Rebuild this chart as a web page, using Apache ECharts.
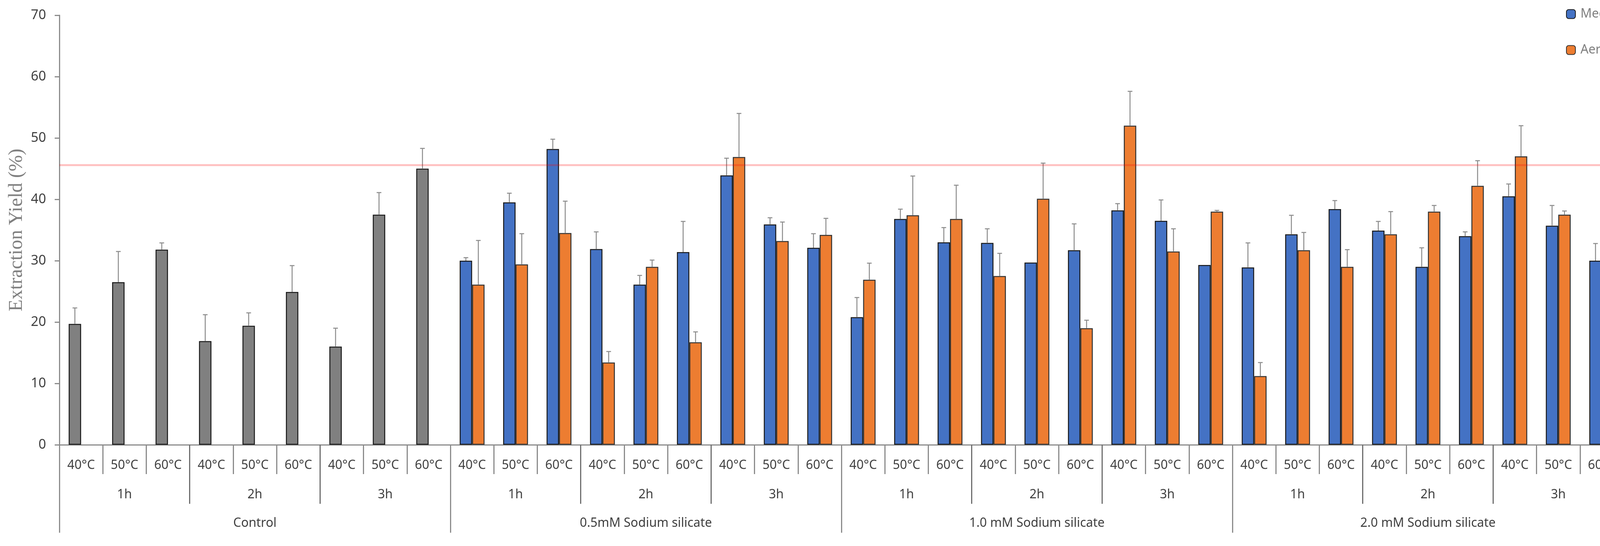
<!DOCTYPE html>
<html>
<head>
<meta charset="utf-8">
<script src="https://cdn.jsdelivr.net/npm/echarts/dist/echarts.min.js"></script>
<style>
html,body{margin:0;padding:0;background:#fff;}
#chart{width:4172px;height:1397px;}
</style>
</head>
<body>
<div id="chart"></div>
<script>
// ---- data ----
var temps = ['40°C','50°C','60°C','40°C','50°C','60°C','40°C','50°C','60°C',
             '40°C','50°C','60°C','40°C','50°C','60°C','40°C','50°C','60°C',
             '40°C','50°C','60°C','40°C','50°C','60°C','40°C','50°C','60°C',
             '40°C','50°C','60°C','40°C','50°C','60°C','40°C','50°C','60°C'];
var hours = ['1h','2h','3h','1h','2h','3h','1h','2h','3h','1h','2h','3h'];
var groups = ['Control','0.5mM Sodium silicate','1.0 mM Sodium silicate','2.0 mM Sodium silicate'];
var controlCount = 9;

// Media series (first 9 = Control)
var mediaValues = [19.7,26.5,31.8, 16.9,19.4,24.9, 16.0,37.5,45.0,
                   30.0,39.5,48.2, 31.9,26.1,31.4, 43.9,35.9,32.1,
                   20.8,36.8,33.0, 32.9,29.7,31.7, 38.2,36.5,29.3,
                   28.9,34.3,38.4, 34.9,29.0,34.0, 40.5,35.7,30.0];
var mediaErr =    [2.6,5.0,1.1, 4.3,2.1,4.3, 3.0,3.6,3.3,
                   0.5,1.5,1.6, 2.8,1.5,5.0, 2.8,1.1,2.3,
                   3.2,1.6,2.4, 2.3,0,4.3, 1.1,3.4,0,
                   4.0,3.1,1.4, 1.5,3.1,0.7, 2.0,3.3,2.8];
var aerialValues = [null,null,null, null,null,null, null,null,null,
                   26.1,29.4,34.5, 13.4,29.0,16.7, 46.9,33.2,34.2,
                   26.9,37.4,36.8, 27.5,40.1,19.0, 52.0,31.5,38.0,
                   11.2,31.7,29.0, 34.3,38.0,42.2, 47.0,37.5,30.7];
var aerialErr =   [null,null,null, null,null,null, null,null,null,
                   7.2,5.0,5.2, 1.8,1.1,1.7, 7.1,3.1,2.7,
                   2.7,6.4,5.5, 3.7,5.8,1.3, 5.6,3.7,0.2,
                   2.2,2.9,2.8, 3.7,1.0,4.1, 5.0,0.6,1.9];
var referenceLine = 45.6;

// ---- build ----
var mediaData = mediaValues.map(function(v,i){
  return i < controlCount ? {value:v, itemStyle:{color:'#808080'}} : v;
});
function errData(vals, errs){
  var out = [];
  for (var i=0;i<vals.length;i++){ if (vals[i]!=null) out.push([i, vals[i], errs[i]]); }
  return out;
}
function errRender(sign){
  return function(params, api){
    var idx = api.value(0), v = api.value(1), e = api.value(2);
    if (!e) return;
    var band = api.size([1,0])[0];
    var p0 = api.coord([idx, v]);
    var p1 = api.coord([idx, v+e]);
    var x = p0[0] + sign*band*0.143;
    var st = {stroke:'#8c8c8c', lineWidth:2.5};
    return {type:'group', children:[
      {type:'line', shape:{x1:x,y1:p0[1],x2:x,y2:p1[1]}, style:st},
      {type:'line', shape:{x1:x-6,y1:p1[1],x2:x+6,y2:p1[1]}, style:st}
    ]};
  };
}
var axisGray = '#8c8c8c';
var labelFont = {fontFamily:'Noto Sans', fontSize:32, color:'#404040'};

var chart = echarts.init(document.getElementById('chart'));
chart.setOption({
  animation:false,
  backgroundColor:'#fff',
  grid:{left:152, right:16, top:39, bottom:259},
  legend:{
    data:['Media','Aerial'], orient:'vertical', right:28, top:15,
    itemWidth:23, itemHeight:23, itemGap:60,
    textStyle:{fontFamily:'Noto Sans', fontSize:32, color:'#7f7f7f', padding:[0,0,0,8]}
  },
  xAxis:[
    {type:'category', data:temps, position:'bottom',
     axisLine:{show:true, lineStyle:{color:axisGray, width:3}},
     axisTick:{show:true, interval:0, length:75, lineStyle:{color:axisGray, width:3}},
     axisLabel:Object.assign({interval:0, margin:37}, labelFont),
     splitLine:{show:false}},
    {type:'category', data:hours, position:'bottom',
     axisLine:{show:false},
     axisTick:{show:true, interval:0, length:151, lineStyle:{color:'#6e6e6e', width:3}},
     axisLabel:Object.assign({interval:0, margin:112}, labelFont),
     splitLine:{show:false}},
    {type:'category', data:groups, position:'bottom',
     axisLine:{show:false},
     axisTick:{show:true, interval:0, length:225, lineStyle:{color:axisGray, width:3}},
     axisLabel:Object.assign({interval:0, margin:185}, labelFont),
     splitLine:{show:false}}
  ],
  yAxis:{
    type:'value', min:0, max:70, interval:10,
    name:'Extraction Yield (%)', nameLocation:'middle', nameRotate:90, nameGap:80,
    nameTextStyle:{fontFamily:'Liberation Serif', fontSize:50, color:'#7f7f7f'},
    axisLine:{show:true, lineStyle:{color:axisGray, width:3}},
    axisTick:{show:true, length:12, lineStyle:{color:axisGray, width:3}},
    axisLabel:Object.assign({margin:34}, labelFont, {fontSize:34}),
    splitLine:{show:false}
  },
  series:[
    {name:'Media', type:'bar', data:mediaData, barWidth:'28.6%', barGap:'0%',
     itemStyle:{color:'#4472C4', borderColor:'#1a1a1a', borderWidth:2.5}},
    {name:'Aerial', type:'bar', data:aerialValues, barWidth:'28.6%', barGap:'0%', z:3,
     itemStyle:{color:'#ED7D31', borderColor:'#333333', borderWidth:2.5},
     markLine:{silent:true, symbol:['none','none'], label:{show:false},
       lineStyle:{color:'rgba(255,0,0,0.24)', width:5, type:'solid'},
       data:[{yAxis:referenceLine}]}},
    {name:'MediaErr', type:'custom', renderItem:errRender(-1), data:errData(mediaValues, mediaErr),
     encode:{x:0,y:1}, z:4},
    {name:'AerialErr', type:'custom', renderItem:errRender(1), data:errData(aerialValues, aerialErr),
     encode:{x:0,y:1}, z:4}
  ]
});
</script>
</body>
</html>
